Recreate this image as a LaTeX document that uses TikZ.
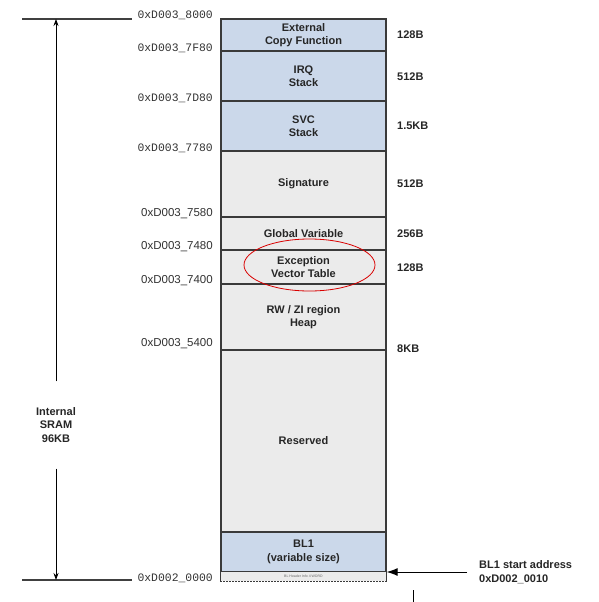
\documentclass[tikz,border=0pt]{standalone}
\usepackage{fontspec}
\setmainfont{Liberation Sans}
\newfontfamily\monofam{Liberation Mono}
\usetikzlibrary{arrows.meta}
\definecolor{bluebox}{HTML}{CBD8EA}
\definecolor{graybox}{HTML}{EBEBEB}
\definecolor{edge}{HTML}{3A3A3A}
\definecolor{addrcol}{HTML}{333333}
\tikzset{
  blk/.style={draw=edge, line width=1.3pt, minimum width=165pt, inner sep=0pt, align=center,
    font=\fontsize{11}{13.5}\selectfont\bfseries, text=black!85},
  addr/.style={anchor=east, font=\fontsize{11.5}{13}\selectfont, text=addrcol, inner sep=0pt},
  maddr/.style={anchor=east, font=\monofam\fontsize{11.4}{13}\selectfont, text=addrcol, inner sep=0pt},
  sz/.style={anchor=west, font=\fontsize{11}{13}\selectfont\bfseries, text=black!85, inner sep=0pt},
  arr/.style={-{Stealth[length=7pt,width=5pt]}, line width=0.8pt},
}
\begin{document}
\begin{tikzpicture}[x=1pt,y=1pt]
\fill[white] (0,0) rectangle (599,-602);
\useasboundingbox (0,0) rectangle (599,-602);

% memory map blocks
\node[blk, fill=bluebox, minimum height=32pt] (ext) at (303.5,-35) {External\\Copy Function};
\node[blk, fill=bluebox, minimum height=50pt] (irq) at (303.5,-76) {IRQ\\Stack};
\node[blk, fill=bluebox, minimum height=50pt] (svc) at (303.5,-126) {SVC\\Stack};
\node[blk, fill=graybox, minimum height=66pt] (sig) at (303.5,-184) {Signature};
\node[blk, fill=graybox, minimum height=33pt] (glob) at (303.5,-233.5) {Global Variable};
\node[blk, fill=graybox, minimum height=34pt] (exc) at (303.5,-267) {Exception\\Vector Table};
\node[blk, fill=graybox, minimum height=66pt] (rw) at (303.5,-317) {RW / ZI region\\Heap};
\node[blk, fill=graybox, minimum height=182pt] (res) at (303.5,-441) {Reserved};
\node[blk, fill=bluebox, minimum height=40pt] (bl1) at (303.5,-552) {BL1\\(variable size)};
\node[blk, fill=graybox, draw=none, minimum height=9pt, font=\fontsize{3.5}{4}\selectfont, text=black!60] (hdr) at (303.5,-576.5) {BL Header Info 4 WORD};
\draw[edge, line width=1.3pt] (hdr.north west) -- (hdr.south west);
\draw[edge, line width=1.3pt] (hdr.north east) -- (hdr.south east);
\draw[edge, line width=1pt, dash pattern=on 2pt off 1pt] (hdr.north west) -- (hdr.north east);
\draw[edge, line width=1pt, dash pattern=on 2pt off 1pt] (hdr.south west) -- (hdr.south east);

% red ellipse
\draw[red!85!black, line width=0.8pt] (309.5,-265) ellipse [x radius=65.5pt, y radius=26pt];

% addresses
\node[maddr] (a1) at (213,-15) {0xD003\_8000};
\node[maddr] (a2) at (213,-48) {0xD003\_7F80};
\node[maddr] (a3) at (213,-98) {0xD003\_7D80};
\node[maddr] (a4) at (213,-148) {0xD003\_7780};
\node[addr] (a5) at (213,-214) {0xD003\_7580};
\node[addr] (a6) at (213,-247) {0xD003\_7480};
\node[addr] (a7) at (213,-281) {0xD003\_7400};
\node[addr] (a8) at (213,-344) {0xD003\_5400};
\node[maddr] (a9) at (213,-578) {0xD002\_0000};

% sizes
\node[sz] (s1) at (397,-35) {128B};
\node[sz] (s2) at (397,-77) {512B};
\node[sz] (s3) at (397,-126) {1.5KB};
\node[sz] (s4) at (397,-184) {512B};
\node[sz] (s5) at (397,-234) {256B};
\node[sz] (s6) at (397,-268) {128B};
\node[sz] (s7) at (397,-349) {8KB};

% internal SRAM range
\coordinate (tl) at (22,-19);
\coordinate (tr) at (132,-19);
\coordinate (bl) at (22,-580);
\coordinate (br) at (132,-580);
\coordinate (top) at (56,-19);
\coordinate (bot) at (56,-580);
\draw[line width=1.4pt, black!75] (tl) -- (tr);
\draw[line width=1.4pt, black!75] (bl) -- (br);
\node[align=center, font=\fontsize{11}{13.5}\selectfont\bfseries, text=black!85, inner xsep=2pt, inner ysep=26pt] (sram) at (56,-425) {Internal\\SRAM\\96KB};
\draw[arr] (sram.north) -- (top);
\draw[arr] (sram.south) -- (bot);

% BL1 start address
\node[anchor=west, align=left, font=\fontsize{11}{14.5}\selectfont\bfseries, text=black!85, inner sep=0pt] (bls) at (479,-572) {BL1 start address\\0xD002\_0010};
\coordinate (blsa) at (467,-572);
\draw[-{Latex[length=11pt,width=8pt]}, line width=1pt] (blsa) -- (bl1.south east |- blsa);

% cropped line at bottom
\coordinate (cl1) at (413,-590);
\coordinate (cl2) at (413,-602);
\draw[line width=1pt] (cl1) -- (cl2);
\end{tikzpicture}
\end{document}
